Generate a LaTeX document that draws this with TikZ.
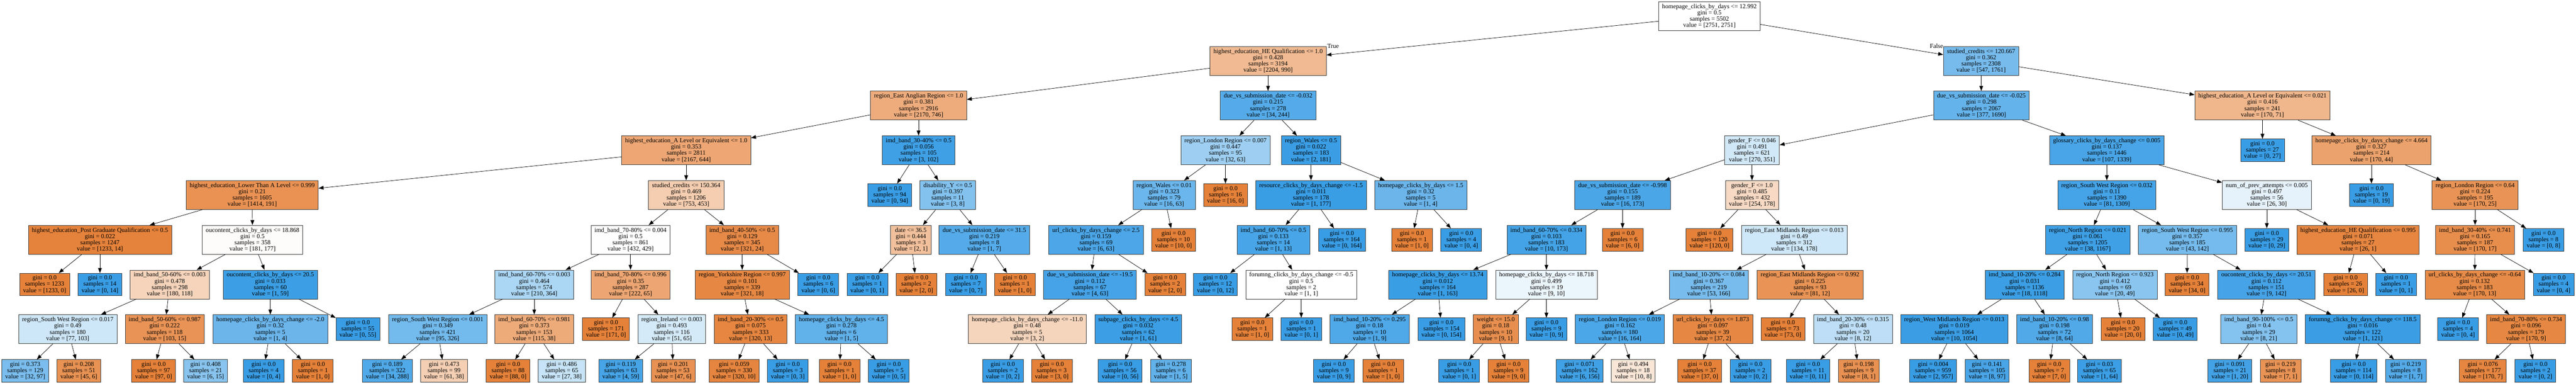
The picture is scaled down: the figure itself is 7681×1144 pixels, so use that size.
\documentclass[tikz,border=0pt]{standalone}
\usepackage{fontspec}
\setmainfont{Liberation Serif}
\usetikzlibrary{arrows.meta}
\definecolor{cO}{RGB}{229,129,57}
\definecolor{cB}{RGB}{57,157,229}
\definecolor{bord}{RGB}{60,60,60}
\tikzset{
  box/.style={draw=bord, line width=1.1pt, rectangle, align=center, inner xsep=10.5pt, inner ysep=2pt,
    font=\fontsize{18.6pt}{18.7pt}\selectfont},
  edge/.style={line width=1.1pt, -{Triangle[length=15pt,width=11pt]}},
  lbl/.style={font=\fontsize{18.6pt}{18.7pt}\selectfont, inner sep=0pt}
}
\newcommand\setfill[2]{%
  \pgfmathsetmacro\al{((max(#1,#2)-min(#1,#2))/max(#1,#2))*100}%
  \ifnum#1<#2 \def\fc{cB}\else\def\fc{cO}\fi}
\newcommand\sety[1]{%
  \ifnum#1=8 \def\yy{-1105.5}\else\pgfmathsetmacro\yy{-(48+133.3*#1)}\fi}
% internal node: name, x, level, condition, gini, samples, v0, v1
\newcommand\TN[8]{%
  \setfill{#7}{#8}\sety{#3}%
  \node[box,minimum height=86pt,fill=\fc!\al!white] (#1) at (#2,\yy) {#4\\gini = #5\\samples = #6\\value = [#7, #8]};}
% leaf: name, x, level, gini, samples, v0, v1
\newcommand\TL[7]{%
  \setfill{#6}{#7}\sety{#3}%
  \node[box,minimum height=67pt,fill=\fc!\al!white] (#1) at (#2,\yy) {gini = #4\\samples = #5\\value = [#6, #7]};}
\begin{document}
\begin{tikzpicture}[x=1pt,y=1pt]
\fill[white] (0,0) rectangle (7681,-1144);
\useasboundingbox (0,0) rectangle (7681,-1144);
% level 0
\TN{n0}{5097}{0}{homepage\_clicks\_by\_days <= 12.992}{0.5}{5502}{2751}{2751}
% level 1
\TN{n1}{3781}{1}{highest\_education\_HE Qualification <= 1.0}{0.428}{3194}{2204}{990}
\TN{n2}{5907}{1}{studied\_credits <= 120.667}{0.362}{2308}{547}{1761}
% level 2
\TN{n3}{2739}{2}{region\_East Anglian Region <= 1.0}{0.381}{2916}{2170}{746}
\TN{n4}{3781}{2}{due\_vs\_submission\_date <= -0.032}{0.215}{278}{34}{244}
\TN{n5}{5908}{2}{due\_vs\_submission\_date <= -0.025}{0.298}{2067}{377}{1690}
\TN{n6}{6746}{2}{highest\_education\_A Level or Equivalent <= 0.021}{0.416}{241}{170}{71}
% level 3
\TN{n7}{2046}{3}{highest\_education\_A Level or Equivalent <= 1.0}{0.353}{2811}{2167}{644}
\TN{n8}{2739}{3}{imd\_band\_30-40\% <= 0.5}{0.056}{105}{3}{102}
\TN{n9}{3654}{3}{region\_London Region <= 0.007}{0.447}{95}{32}{63}
\TN{n10}{3909}{3}{region\_Wales <= 0.5}{0.022}{183}{2}{181}
\TN{n11}{5224}{3}{gender\_F <= 0.046}{0.491}{621}{270}{351}
\TN{n12}{6282}{3}{glossary\_clicks\_by\_days\_change <= 0.005}{0.137}{1446}{107}{1339}
\TL{n13}{6746}{3}{0.0}{27}{0}{27}
\TN{n14}{7071}{3}{homepage\_clicks\_by\_days\_change <= 4.664}{0.327}{214}{170}{44}
% level 4
\TN{n15}{752}{4}{highest\_education\_Lower Than A Level <= 0.999}{0.21}{1605}{1414}{191}
\TN{n16}{2046}{4}{studied\_credits <= 150.364}{0.469}{1206}{753}{453}
\TL{n17}{2653}{4}{0.0}{94}{0}{94}
\TN{n18}{2826}{4}{disability\_Y <= 0.5}{0.397}{11}{3}{8}
\TN{n19}{3471}{4}{region\_Wales <= 0.01}{0.323}{79}{16}{63}
\TL{n20}{3654}{4}{0.0}{16}{16}{0}
\TN{n21}{3909}{4}{resource\_clicks\_by\_days\_change <= -1.5}{0.011}{178}{1}{177}
\TN{n22}{4236}{4}{homepage\_clicks\_by\_days <= 1.5}{0.32}{5}{1}{4}
\TN{n23}{4838}{4}{due\_vs\_submission\_date <= -0.998}{0.155}{189}{16}{173}
\TN{n24}{5224}{4}{gender\_F <= 1.0}{0.485}{432}{254}{178}
\TN{n25}{6282}{4}{region\_South West Region <= 0.032}{0.11}{1390}{81}{1309}
\TN{n26}{6759}{4}{num\_of\_prev\_attempts <= 0.005}{0.497}{56}{26}{30}
\TL{n27}{7071}{4}{0.0}{19}{0}{19}
\TN{n28}{7380}{4}{region\_London Region <= 0.64}{0.224}{195}{170}{25}
% level 5
\TN{n29}{298}{5}{highest\_education\_Post Graduate Qualification <= 0.5}{0.022}{1247}{1233}{14}
\TN{n30}{753}{5}{oucontent\_clicks\_by\_days <= 18.868}{0.5}{358}{181}{177}
\TN{n31}{1880}{5}{imd\_band\_70-80\% <= 0.004}{0.5}{861}{432}{429}
\TN{n32}{2213}{5}{imd\_band\_40-50\% <= 0.5}{0.129}{345}{321}{24}
\TN{n33}{2716}{5}{date <= 36.5}{0.444}{3}{2}{1}
\TN{n34}{2935}{5}{due\_vs\_submission\_date <= 31.5}{0.219}{8}{1}{7}
\TN{n35}{3268}{5}{url\_clicks\_by\_days\_change <= 2.5}{0.159}{69}{6}{63}
\TL{n36}{3499}{5}{0.0}{10}{10}{0}
\TN{n37}{3797}{5}{imd\_band\_60-70\% <= 0.5}{0.133}{14}{1}{13}
\TL{n38}{4001}{5}{0.0}{164}{0}{164}
\TL{n39}{4210}{5}{0.0}{1}{1}{0}
\TL{n40}{4357}{5}{0.0}{4}{0}{4}
\TN{n41}{4611}{5}{imd\_band\_60-70\% <= 0.334}{0.103}{183}{10}{173}
\TL{n42}{4838}{5}{0.0}{6}{6}{0}
\TL{n43}{5097}{5}{0.0}{120}{120}{0}
\TN{n44}{5350}{5}{region\_East Midlands Region <= 0.013}{0.49}{312}{134}{178}
\TN{n45}{6225}{5}{region\_North Region <= 0.021}{0.061}{1205}{38}{1167}
\TN{n46}{6522}{5}{region\_South West Region <= 0.995}{0.357}{185}{43}{142}
\TL{n47}{6759}{5}{0.0}{29}{0}{29}
\TN{n48}{7031}{5}{highest\_education\_HE Qualification <= 0.995}{0.071}{27}{26}{1}
\TN{n49}{7380}{5}{imd\_band\_30-40\% <= 0.741}{0.165}{187}{170}{17}
\TL{n50}{7584}{5}{0.0}{8}{0}{8}
% level 6
\TL{n51}{133}{6}{0.0}{1233}{1233}{0}
\TL{n52}{298}{6}{0.0}{14}{0}{14}
\TN{n53}{506}{6}{imd\_band\_50-60\% <= 0.003}{0.478}{298}{180}{118}
\TN{n54}{806}{6}{oucontent\_clicks\_by\_days <= 20.5}{0.033}{60}{1}{59}
\TN{n55}{1593}{6}{imd\_band\_60-70\% <= 0.003}{0.464}{574}{210}{364}
\TN{n56}{1880}{6}{imd\_band\_70-80\% <= 0.996}{0.35}{287}{222}{65}
\TN{n57}{2213}{6}{region\_Yorkshire Region <= 0.997}{0.101}{339}{321}{18}
\TL{n58}{2440}{6}{0.0}{6}{0}{6}
\TL{n59}{2586}{6}{0.0}{1}{0}{1}
\TL{n60}{2732}{6}{0.0}{2}{2}{0}
\TL{n61}{2880}{6}{0.0}{7}{0}{7}
\TL{n62}{3026}{6}{0.0}{1}{1}{0}
\TN{n63}{3250}{6}{due\_vs\_submission\_date <= -19.5}{0.112}{67}{4}{63}
\TL{n64}{3474}{6}{0.0}{2}{2}{0}
\TL{n65}{3624}{6}{0.0}{12}{0}{12}
\TN{n66}{3880}{6}{forumng\_clicks\_by\_days\_change <= -0.5}{0.5}{2}{1}{1}
\TN{n67}{4287}{6}{homepage\_clicks\_by\_days <= 13.74}{0.012}{164}{1}{163}
\TN{n68}{4611}{6}{homepage\_clicks\_by\_days <= 18.718}{0.499}{19}{9}{10}
\TN{n69}{5095}{6}{imd\_band\_10-20\% <= 0.084}{0.367}{219}{53}{166}
\TN{n70}{5397}{6}{region\_East Midlands Region <= 0.992}{0.225}{93}{81}{12}
\TN{n71}{6037}{6}{imd\_band\_10-20\% <= 0.284}{0.031}{1136}{18}{1118}
\TN{n72}{6306}{6}{region\_North Region <= 0.923}{0.412}{69}{20}{49}
\TL{n73}{6521}{6}{0.0}{34}{34}{0}
\TN{n74}{6758}{6}{oucontent\_clicks\_by\_days <= 20.51}{0.112}{151}{9}{142}
\TL{n75}{6994}{6}{0.0}{26}{26}{0}
\TL{n76}{7144}{6}{0.0}{1}{0}{1}
\TN{n77}{7379}{6}{url\_clicks\_by\_days\_change <= -0.64}{0.132}{183}{170}{13}
\TL{n78}{7614}{6}{0.0}{4}{0}{4}
% level 7
\TN{n79}{202}{7}{region\_South West Region <= 0.017}{0.49}{180}{77}{103}
\TN{n80}{491}{7}{imd\_band\_50-60\% <= 0.987}{0.222}{118}{103}{15}
\TN{n81}{806}{7}{homepage\_clicks\_by\_days\_change <= -2.0}{0.32}{5}{1}{4}
\TL{n82}{1067}{7}{0.0}{55}{0}{55}
\TN{n83}{1305}{7}{region\_South West Region <= 0.001}{0.349}{421}{95}{326}
\TN{n84}{1593}{7}{imd\_band\_60-70\% <= 0.981}{0.373}{153}{115}{38}
\TL{n85}{1807}{7}{0.0}{171}{171}{0}
\TN{n86}{2003}{7}{region\_Ireland <= 0.003}{0.493}{116}{51}{65}
\TN{n87}{2238}{7}{imd\_band\_20-30\% <= 0.5}{0.075}{333}{320}{13}
\TN{n88}{2509}{7}{homepage\_clicks\_by\_days <= 4.5}{0.278}{6}{1}{5}
\TN{n89}{3063}{7}{homepage\_clicks\_by\_days\_change <= -11.0}{0.48}{5}{3}{2}
\TN{n90}{3394}{7}{subpage\_clicks\_by\_days <= 4.5}{0.032}{62}{1}{61}
\TL{n91}{3734}{7}{0.0}{1}{1}{0}
\TL{n92}{3880}{7}{0.0}{1}{0}{1}
\TN{n93}{4084}{7}{imd\_band\_10-20\% <= 0.295}{0.18}{10}{1}{9}
\TL{n94}{4298}{7}{0.0}{154}{0}{154}
\TN{n95}{4460}{7}{weight <= 15.0}{0.18}{10}{9}{1}
\TL{n96}{4611}{7}{0.0}{9}{0}{9}
\TN{n97}{4830}{7}{region\_London Region <= 0.019}{0.162}{180}{16}{164}
\TN{n98}{5107}{7}{url\_clicks\_by\_days <= 1.873}{0.097}{39}{37}{2}
\TL{n99}{5316}{7}{0.0}{73}{73}{0}
\TN{n100}{5525}{7}{imd\_band\_20-30\% <= 0.315}{0.48}{20}{8}{12}
\TN{n101}{5827}{7}{region\_West Midlands Region <= 0.013}{0.019}{1064}{10}{1054}
\TN{n102}{6126}{7}{imd\_band\_10-20\% <= 0.98}{0.198}{72}{8}{64}
\TL{n103}{6330}{7}{0.0}{20}{20}{0}
\TL{n104}{6486}{7}{0.0}{49}{0}{49}
\TN{n105}{6735}{7}{imd\_band\_90-100\% <= 0.5}{0.4}{29}{8}{21}
\TN{n106}{7045}{7}{forumng\_clicks\_by\_days\_change <= 118.5}{0.016}{122}{1}{121}
\TL{n107}{7329}{7}{0.0}{4}{0}{4}
\TN{n108}{7532}{7}{imd\_band\_70-80\% <= 0.734}{0.096}{179}{170}{9}
% level 8
\TL{n109}{75}{8}{0.373}{129}{32}{97}
\TL{n110}{235}{8}{0.208}{51}{45}{6}
\TL{n111}{458}{8}{0.0}{97}{97}{0}
\TL{n112}{613}{8}{0.408}{21}{6}{15}
\TL{n113}{786}{8}{0.0}{4}{0}{4}
\TL{n114}{933}{8}{0.0}{1}{1}{0}
\TL{n115}{1155}{8}{0.189}{322}{34}{288}
\TL{n116}{1324}{8}{0.473}{99}{61}{38}
\TL{n117}{1515}{8}{0.0}{88}{88}{0}
\TL{n118}{1675}{8}{0.486}{65}{27}{38}
\TL{n119}{1851}{8}{0.119}{63}{4}{59}
\TL{n120}{2007}{8}{0.201}{53}{47}{6}
\TL{n121}{2189}{8}{0.059}{330}{320}{10}
\TL{n122}{2349}{8}{0.0}{3}{0}{3}
\TL{n123}{2503}{8}{0.0}{1}{1}{0}
\TL{n124}{2650}{8}{0.0}{5}{0}{5}
\TL{n125}{2990}{8}{0.0}{2}{0}{2}
\TL{n126}{3136}{8}{0.0}{3}{3}{0}
\TL{n127}{3340}{8}{0.0}{56}{0}{56}
\TL{n128}{3491}{8}{0.278}{6}{1}{5}
\TL{n129}{3977}{8}{0.0}{9}{0}{9}
\TL{n130}{4124}{8}{0.0}{1}{1}{0}
\TL{n131}{4351}{8}{0.0}{1}{0}{1}
\TL{n132}{4498}{8}{0.0}{9}{9}{0}
\TL{n133}{4710}{8}{0.071}{162}{6}{156}
\TL{n134}{4870}{8}{0.494}{18}{10}{8}
\TL{n135}{5068}{8}{0.0}{37}{37}{0}
\TL{n136}{5219}{8}{0.0}{2}{0}{2}
\TL{n137}{5391}{8}{0.0}{11}{0}{11}
\TL{n138}{5542}{8}{0.198}{9}{8}{1}
\TL{n139}{5764}{8}{0.004}{959}{2}{957}
\TL{n140}{5925}{8}{0.141}{105}{8}{97}
\TL{n141}{6110}{8}{0.0}{7}{7}{0}
\TL{n142}{6260}{8}{0.03}{65}{1}{64}
\TL{n143}{6649}{8}{0.091}{21}{1}{20}
\TL{n144}{6800}{8}{0.219}{8}{7}{1}
\TL{n145}{7018}{8}{0.0}{114}{0}{114}
\TL{n146}{7173}{8}{0.219}{8}{1}{7}
\TL{n147}{7403}{8}{0.076}{177}{170}{7}
\TL{n148}{7560}{8}{0.0}{2}{0}{2}
% edges
\foreach \a/\b in {n0/n1,n0/n2,n1/n3,n1/n4,n2/n5,n2/n6,
  n3/n7,n3/n8,n4/n9,n4/n10,n5/n11,n5/n12,n6/n13,n6/n14,
  n7/n15,n7/n16,n8/n17,n8/n18,n9/n19,n9/n20,n10/n21,n10/n22,n11/n23,n11/n24,n12/n25,n12/n26,n14/n27,n14/n28,
  n15/n29,n15/n30,n16/n31,n16/n32,n18/n33,n18/n34,n19/n35,n19/n36,n21/n37,n21/n38,n22/n39,n22/n40,
  n23/n41,n23/n42,n24/n43,n24/n44,n25/n45,n25/n46,n26/n47,n26/n48,n28/n49,n28/n50,
  n29/n51,n29/n52,n30/n53,n30/n54,n31/n55,n31/n56,n32/n57,n32/n58,n33/n59,n33/n60,n34/n61,n34/n62,
  n35/n63,n35/n64,n37/n65,n37/n66,n41/n67,n41/n68,n44/n69,n44/n70,n45/n71,n45/n72,n46/n73,n46/n74,
  n48/n75,n48/n76,n49/n77,n49/n78,
  n53/n79,n53/n80,n54/n81,n54/n82,n55/n83,n55/n84,n56/n85,n56/n86,n57/n87,n57/n88,n63/n89,n63/n90,
  n66/n91,n66/n92,n67/n93,n67/n94,n68/n95,n68/n96,n69/n97,n69/n98,n70/n99,n70/n100,n71/n101,n71/n102,
  n72/n103,n72/n104,n74/n105,n74/n106,n77/n107,n77/n108,
  n79/n109,n79/n110,n80/n111,n80/n112,n81/n113,n81/n114,n83/n115,n83/n116,n84/n117,n84/n118,
  n86/n119,n86/n120,n87/n121,n87/n122,n88/n123,n88/n124,n89/n125,n89/n126,n90/n127,n90/n128,
  n93/n129,n93/n130,n95/n131,n95/n132,n97/n133,n97/n134,n98/n135,n98/n136,n100/n137,n100/n138,
  n101/n139,n101/n140,n102/n141,n102/n142,n105/n143,n105/n144,n106/n145,n106/n146,n108/n147,n108/n148}
  \draw[edge] (\a) -- (\b);
\node[lbl] (ltrue) at (3975,-138) {True};
\node[lbl] (lfalse) at (5774,-137) {False};
\end{tikzpicture}
\end{document}
